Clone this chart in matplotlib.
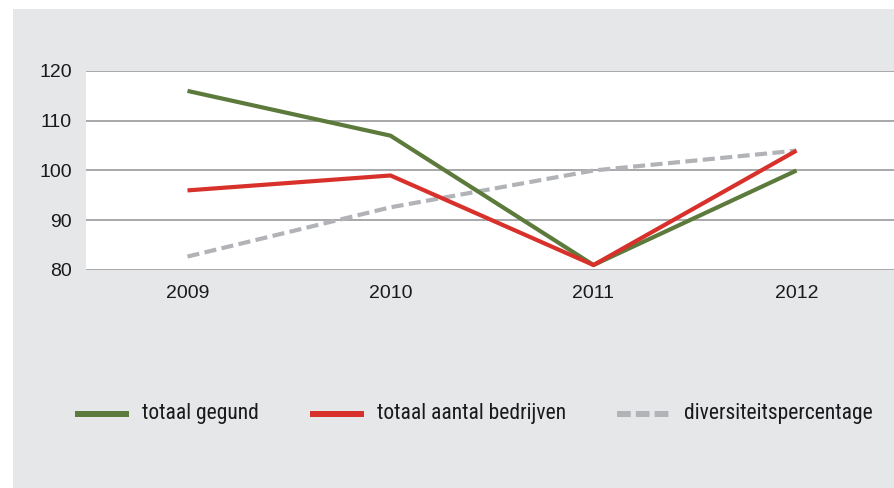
import matplotlib.pyplot as plt
from matplotlib.patches import Rectangle
from matplotlib.lines import Line2D

years = ['2009', '2010', '2011', '2012']
totaal_gegund = [116, 107, 81, 100]
totaal_bedrijven = [96, 99, 81, 104]
diversiteit = [82.7, 92.6, 100, 104]
labels = ['totaal gegund', 'totaal aantal bedrijven', 'diversiteitspercentage']

green = '#5b7a3b'
red = '#d8302a'
grey = '#b1b3b6'
bg = '#e6e7e9'

fig = plt.figure(figsize=(8.95, 4.88), dpi=100)
fig.patches.append(Rectangle((13 / 895, 0), 1, 1 - 9 / 488, transform=fig.transFigure,
                             facecolor=bg, edgecolor='none', zorder=-1))

ax = fig.add_axes([86 / 895, 1 - 270 / 488, 812 / 895, 199 / 488])
ax.set_facecolor('white')
x = range(len(years))
ax.plot(x, totaal_gegund, color=green, lw=3, solid_capstyle='butt', zorder=3)
ax.plot(x, totaal_bedrijven, color=red, lw=3, solid_capstyle='butt', zorder=4)
ax.plot(x, diversiteit, color=grey, lw=3, dashes=(2.9, 1.3), zorder=2)

ax.set_xlim(-0.5, 3.5)
ax.set_ylim(80, 120)
ax.set_yticks([80, 90, 100, 110, 120])
ax.set_xticks(list(x))
ax.set_xticklabels(years)
for s in ax.spines.values():
    s.set_visible(False)
ax.tick_params(length=0, labelsize=14, colors='#1a1a1a')
ax.tick_params(axis='y', pad=10)
ax.tick_params(axis='x', pad=11)
for lbl in ax.get_xticklabels() + ax.get_yticklabels():
    lbl.set_family('Liberation Sans')
ax.grid(axis='y', color='#9a9a9c', lw=1.2)
ax.set_axisbelow(True)

# legend drawn by hand in figure coords
ypos = 1 - 414 / 488
legend_items = [(green, None, 75), (red, None, 310), (grey, (2.3, 0.85), 617)]
for (col, dash, xs), lab in zip(legend_items, labels):
    ln = Line2D([xs / 895, (xs + 54) / 895], [ypos, ypos], color=col, lw=4.3,
                solid_capstyle='butt', dash_capstyle='butt', transform=fig.transFigure)
    if dash is not None:
        ln.set_dashes(dash)
    fig.add_artist(ln)
    fig.text((xs + 67) / 895, ypos, lab, va='center', ha='left', fontsize=15.5,
             family=['Roboto Condensed', 'DejaVu Sans'], color='#1a1a1a')

fig.savefig('out.png', dpi=100)
